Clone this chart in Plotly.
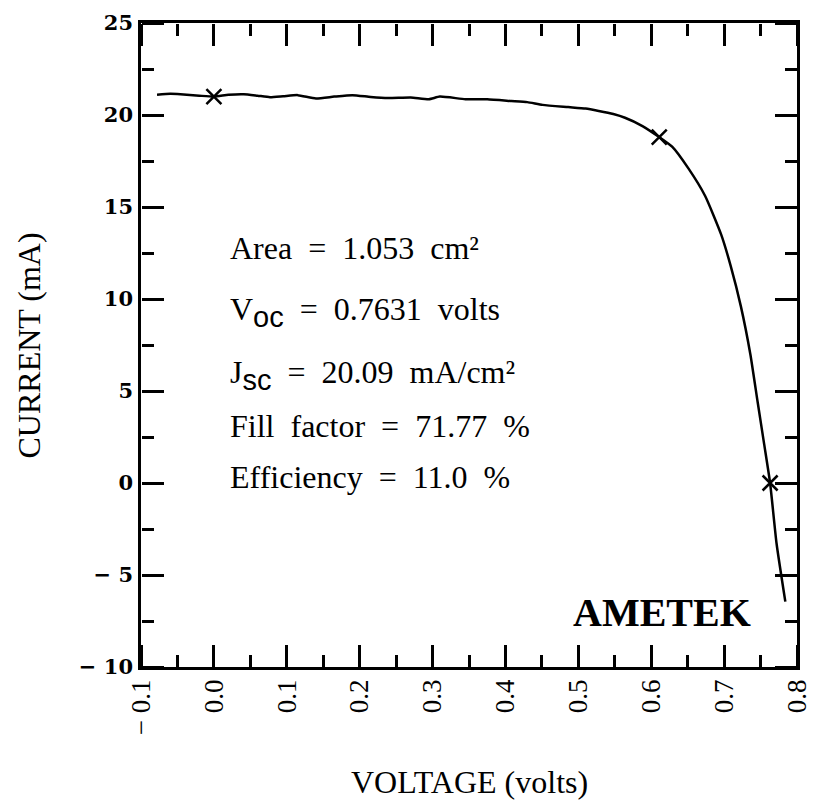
import plotly.graph_objects as go

# ---- data ----
voltage = [-0.078, -0.06, -0.046, -0.02, 0.0, 0.02, 0.041, 0.06, 0.077, 0.095,
           0.115, 0.14, 0.165, 0.19, 0.215, 0.239, 0.27, 0.295, 0.31, 0.345,
           0.375, 0.408, 0.43, 0.451, 0.486, 0.51, 0.528, 0.548, 0.564, 0.588,
           0.611, 0.629, 0.651, 0.674, 0.696, 0.709, 0.723, 0.736, 0.746, 0.755,
           0.7631, 0.772, 0.784]
current = [21.1, 21.15, 21.13, 21.05, 21.0, 21.1, 21.13, 21.05, 20.97, 21.02,
           21.08, 20.9, 21.0, 21.08, 20.98, 20.92, 20.95, 20.86, 21.0, 20.86,
           20.85, 20.76, 20.7, 20.55, 20.43, 20.35, 20.22, 20.05, 19.85, 19.4,
           18.8, 18.27, 17.1, 15.6, 13.5, 11.8, 9.6, 7.0, 4.4, 2.1,
           0.0, -3.3, -6.45]

marker_v = [0.0, 0.611, 0.7631]
marker_i = [21.0, 18.8, 0.0]

x_range = [-0.1, 0.8]
y_range = [-10, 25]
x_major_step, x_minor_step = 0.1, 0.05
y_major_step, y_minor_step = 5, 2.5
x_tickvals = [-0.1, 0.0, 0.1, 0.2, 0.3, 0.4, 0.5, 0.6, 0.7, 0.8]
x_ticktext = ["\u2212\u00a00.1", "0.0", "0.1", "0.2", "0.3", "0.4", "0.5", "0.6", "0.7", "0.8"]
y_tickvals = [-10, -5, 0, 5, 10, 15, 20, 25]
y_ticktext = ["\u2212\u00a010", "\u2212\u00a05", "0", "5", "10", "15", "20", "25"]

sub = "<sub><span style='font-family:Liberation Sans;font-size:29px'>{}</span></sub>"
info_lines = [
    "Area\u00a0 =\u00a0 1.053\u00a0 cm\u00b2",
    "V" + sub.format("oc") + "\u00a0 =\u00a0 0.7631\u00a0 volts",
    "J" + sub.format("sc") + "\u00a0 =\u00a0 20.09\u00a0 mA/cm\u00b2",
    "Fill\u00a0 factor\u00a0 =\u00a0 71.77\u00a0 %",
    "Efficiency\u00a0 =\u00a0 11.0\u00a0 %",
]
info_y = [12.75, 9.3, 5.85, 3.1, 0.35]
info_x = 0.0196

serif = "Liberation Serif"
ink = "#000000"

fig = go.Figure()
fig.add_trace(go.Scatter(x=voltage, y=current, mode="lines",
                         line=dict(color=ink, width=2.5, shape="spline", smoothing=0.5),
                         showlegend=False))
fig.add_trace(go.Scatter(x=marker_v, y=marker_i, mode="markers", xaxis="x2", yaxis="y2",
                         marker=dict(symbol="x-thin-open", size=15, color=ink,
                                     line=dict(color=ink, width=2.5)),
                         showlegend=False))
# empty traces so the inward-tick axes are created
fig.add_trace(go.Scatter(x=[], y=[], xaxis="x3", yaxis="y3", showlegend=False,
                         hoverinfo="skip"))
fig.add_trace(go.Scatter(x=[], y=[], xaxis="x4", yaxis="y4", showlegend=False,
                         hoverinfo="skip"))

for txt, yy in zip(info_lines, info_y):
    fig.add_annotation(x=info_x, y=yy, xref="x", yref="y", text=txt, showarrow=False,
                       xanchor="left", yanchor="middle",
                       font=dict(family=serif, size=32, color=ink))

fig.add_annotation(x=0.74, y=-7.05, xref="x", yref="y", text="<b>AMETEK</b>",
                   showarrow=False, xanchor="right", yanchor="middle",
                   font=dict(family=serif, size=40, color=ink))

fig.add_annotation(x=0.5, y=-0.178, xref="paper", yref="paper", text="VOLTAGE (volts)",
                   showarrow=False, xanchor="center", yanchor="middle",
                   font=dict(family=serif, size=32, color=ink))
fig.add_annotation(x=-0.17, y=0.5, xref="paper", yref="paper", text="CURRENT (mA)",
                   showarrow=False, xanchor="center", yanchor="middle", textangle=-90,
                   font=dict(family=serif, size=32, color=ink))

frame_axis = dict(showgrid=False, zeroline=False, showline=True, linecolor=ink,
                  linewidth=3, mirror=True, ticks="", showticklabels=False)
label_axis = dict(showgrid=False, zeroline=False, showline=False, ticks="",
                  tickmode="array", ticklabeloverflow="allow")
# "outside" ticks on an axis placed at the opposite edge point into the plot
tick_axis = dict(showgrid=False, zeroline=False, showline=False, ticks="outside",
                 ticklen=22, tickwidth=3, tickcolor=ink, showticklabels=False,
                 anchor="free", layer="above traces")


def minor(step):
    return dict(dtick=step, ticks="outside", ticklen=12, tickwidth=3, tickcolor=ink)


fig.update_layout(
    xaxis=dict(range=x_range, **frame_axis),
    yaxis=dict(range=y_range, **frame_axis),
    xaxis2=dict(range=x_range, overlaying="x", anchor="y2", side="bottom",
                tickvals=x_tickvals, ticktext=x_ticktext, tickangle=-90,
                tickfont=dict(family=serif, size=27, color=ink),
                ticklabelstandoff=6, **label_axis),
    yaxis2=dict(range=y_range, overlaying="y", anchor="x2", side="left",
                tickvals=y_tickvals, ticktext=y_ticktext,
                tickfont=dict(family="DejaVu Serif", size=21, color=ink,
                              weight="bold"),
                ticklabelstandoff=7, **label_axis),
    # bottom edge, ticks pointing up
    xaxis3=dict(range=x_range, overlaying="x", side="top", position=0,
                dtick=x_major_step, minor=minor(x_minor_step), **tick_axis),
    # top edge, ticks pointing down
    xaxis4=dict(range=x_range, overlaying="x", side="bottom", position=1,
                dtick=x_major_step, minor=minor(x_minor_step), **tick_axis),
    # left edge, ticks pointing right
    yaxis3=dict(range=y_range, overlaying="y", side="right", position=0,
                dtick=y_major_step, minor=minor(y_minor_step), **tick_axis),
    # right edge, ticks pointing left
    yaxis4=dict(range=y_range, overlaying="y", side="left", position=1,
                dtick=y_major_step, minor=minor(y_minor_step), **tick_axis),
    width=822, height=804, plot_bgcolor="white", paper_bgcolor="white",
    margin=dict(l=141, r=10, t=15, b=137), showlegend=False)

fig.write_html("out.html")
